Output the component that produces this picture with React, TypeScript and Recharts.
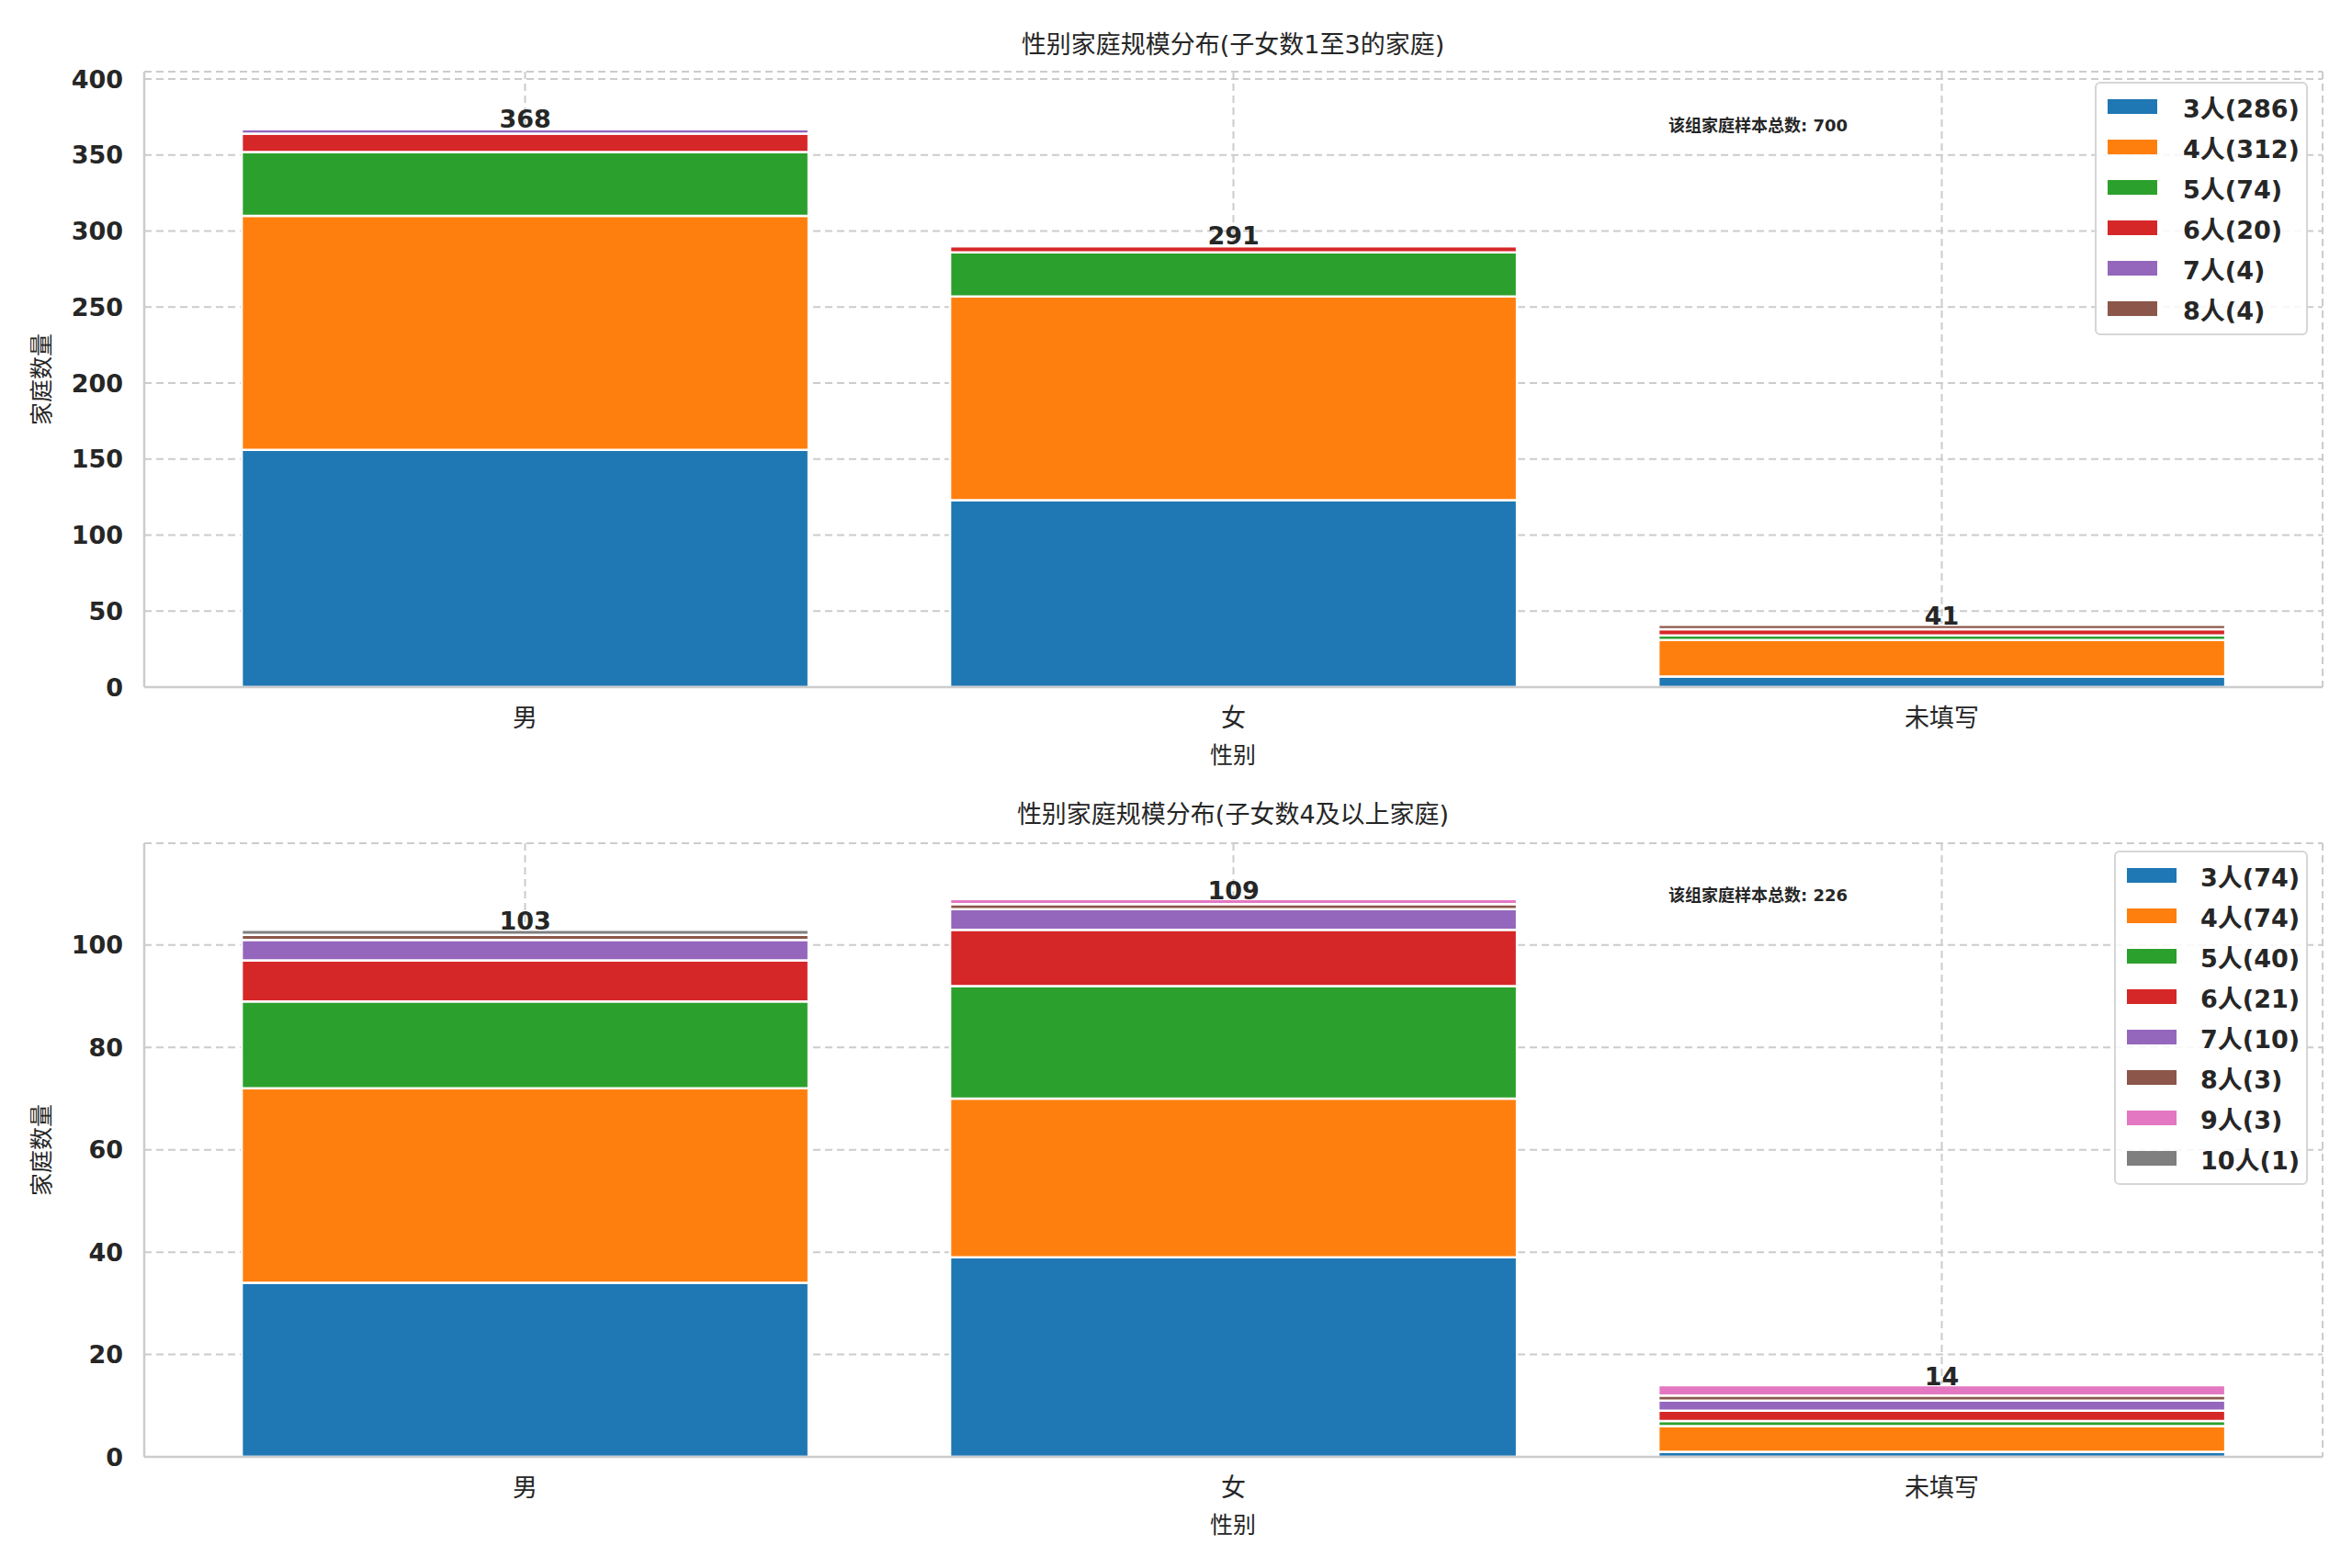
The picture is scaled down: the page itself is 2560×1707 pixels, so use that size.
import { Bar, BarChart, CartesianGrid, LabelList, Legend, XAxis, YAxis } from "recharts";

// categories on the x axis
const categories = ["男", "女", "未填写"];

// panel 1: families with 1-3 children, values per category [男, 女, 未填写]
const topNames = ["3人", "4人", "5人", "6人", "7人", "8人"];
const top3 = [156, 123, 7];
const top4 = [154, 134, 24];
const top5 = [42, 29, 3];
const top6 = [12, 4, 4];
const top7 = [3, 1, 0];
const top8 = [1, 0, 3];
const topTicks = [0, 50, 100, 150, 200, 250, 300, 350, 400];

// panel 2: families with 4+ children
const bottomNames = ["3人", "4人", "5人", "6人", "7人", "8人", "9人", "10人"];
const bot3 = [34, 39, 1];
const bot4 = [38, 31, 5];
const bot5 = [17, 22, 1];
const bot6 = [8, 11, 2];
const bot7 = [4, 4, 2];
const bot8 = [1, 1, 1];
const bot9 = [0, 1, 2];
const bot10 = [1, 0, 0];
const bottomTicks = [0, 20, 40, 60, 80, 100];

const colors = ["#1f77b4", "#ff7f0e", "#2ca02c", "#d62728", "#9467bd", "#8c564b", "#e377c2", "#7f7f7f"];

const FONT = '"DejaVu Sans", "Noto Sans CJK SC", sans-serif';
const INK = "#262626";
const SPINE = "#cccccc";

const sum = (a: number[]) => a.reduce((s, v) => s + v, 0);

function buildRows(series: number[][]) {
  return categories.map((gender, i) => {
    const row: Record<string, number | string | null> = { gender };
    const total = sum(series.map((s) => s[i]));
    // the total label goes on the highest non-empty segment of each bar
    let topK = 0;
    series.forEach((s, k) => {
      row["s" + k] = s[i];
      if (s[i] > 0) topK = k;
    });
    series.forEach((_, k) => (row["lbl" + k] = k === topK ? total : null));
    row.total = total;
    return row;
  });
}

type PanelProps = {
  series: number[][];
  names: string[];
  ticks: number[];
  height: number;
  margin: { top: number; right: number; bottom: number; left: number };
  legendPos: { top: number; left: number; width: number; swatchPad: number; textLeft: number };
};

function LegendBox({ payload, pos }: any) {
  return (
    <div
      style={{
        width: pos.width,
        boxSizing: "border-box",
        border: "2px solid #d6d6d6",
        borderRadius: 6,
        background: "rgba(255,255,255,0.85)",
        padding: "3px 0 5px 0",
        fontFamily: FONT,
      }}
    >
      {(payload || []).map((p: any) => (
        <div key={p.value} style={{ display: "flex", alignItems: "center", height: 44 }}>
          <span
            style={{
              display: "inline-block",
              marginLeft: pos.swatchPad,
              width: 54,
              height: 16,
              background: p.color,
            }}
          />
          <span
            style={{
              marginLeft: pos.textLeft,
              fontSize: 27,
              fontWeight: "bold",
              color: INK,
              whiteSpace: "nowrap",
            }}
          >
            {p.value}
          </span>
        </div>
      ))}
    </div>
  );
}

function Panel({ series, names, ticks, height, margin, legendPos }: PanelProps) {
  const rows = buildRows(series);
  const yMax = Math.max(...rows.map((r) => r.total as number)) * 1.1;
  return (
    <BarChart width={2560} height={height} data={rows} margin={margin} barCategoryGap="10%">
      <CartesianGrid stroke={SPINE} strokeWidth={2} strokeDasharray="8 5" />
      <XAxis
        dataKey="gender"
        padding={{ left: 29, right: 29 }}
        tick={{ fill: INK, fontSize: 27, fontFamily: FONT }}
        tickLine={false}
        tickSize={0}
        tickMargin={24}
        height={60}
        axisLine={{ stroke: SPINE, strokeWidth: 2.5 }}
      />
      <XAxis
        xAxisId="top"
        orientation="top"
        dataKey="gender"
        tick={false}
        tickLine={false}
        height={0}
        axisLine={{ stroke: SPINE, strokeWidth: 2.5 }}
      />
      <YAxis
        domain={[0, yMax]}
        ticks={ticks}
        width={157}
        tick={{ fill: INK, fontSize: 27, fontWeight: "bold", fontFamily: FONT }}
        tickLine={false}
        tickSize={0}
        tickMargin={23}
        axisLine={{ stroke: SPINE, strokeWidth: 2.5 }}
      />
      <YAxis
        yAxisId="right"
        orientation="right"
        width={0}
        tick={false}
        tickLine={false}
        axisLine={{ stroke: SPINE, strokeWidth: 2.5 }}
      />
      <Legend
        layout="vertical"
        align="center"
        verticalAlign="middle"
        itemSorter={(item: any) => Number(String(item.dataKey).slice(1))}
        wrapperStyle={{ top: legendPos.top, left: legendPos.left, width: legendPos.width }}
        content={(props: any) => <LegendBox payload={props.payload} pos={legendPos} />}
      />
      {series.map((s, k) => (
        <Bar
          key={k}
          dataKey={"s" + k}
          name={`${names[k]}(${sum(s)})`}
          stackId="a"
          fill={colors[k]}
          stroke="#ffffff"
          strokeWidth={2.5}
          isAnimationActive={false}
        >
          <LabelList
            dataKey={"lbl" + k}
            position="top"
            offset={0}
            style={{ fill: INK, fontSize: 27, fontWeight: "bold", fontFamily: FONT }}
          />
        </Bar>
      ))}
    </BarChart>
  );
}

const abs = (extra: React.CSSProperties): React.CSSProperties => ({
  position: "absolute",
  fontFamily: FONT,
  color: INK,
  whiteSpace: "nowrap",
  ...extra,
});

export default function App() {
  const topSeries = [top3, top4, top5, top6, top7, top8];
  const bottomSeries = [bot3, bot4, bot5, bot6, bot7, bot8, bot9, bot10];
  return (
    <div style={{ position: "absolute", left: 0, top: 0, width: 2560, height: 1707, background: "#fff" }}>
      <div style={{ position: "absolute", left: 0, top: 0 }}>
        <Panel
          series={topSeries}
          names={topNames}
          ticks={topTicks}
          height={853}
          margin={{ top: 78, right: 32, bottom: 45, left: 0 }}
          legendPos={{ top: 89, left: 2280, width: 232, swatchPad: 12, textLeft: 28 }}
        />
      </div>
      <div style={{ position: "absolute", left: 0, top: 853 }}>
        <Panel
          series={bottomSeries}
          names={bottomNames}
          ticks={bottomTicks}
          height={854}
          margin={{ top: 65, right: 32, bottom: 61, left: 0 }}
          legendPos={{ top: 73, left: 2301, width: 211, swatchPad: 12, textLeft: 26 }}
        />
      </div>

      <div style={abs({ left: 742, width: 1200, top: 31, lineHeight: "36px", fontSize: 27, textAlign: "center" })}>
        性别家庭规模分布(子女数1至3的家庭)
      </div>
      <div style={abs({ left: 742, width: 1200, top: 869, lineHeight: "36px", fontSize: 27, textAlign: "center" })}>
        性别家庭规模分布(子女数4及以上家庭)
      </div>

      <div style={abs({ left: 1816, top: 125, lineHeight: "24px", fontSize: 18, fontWeight: "bold" })}>
        该组家庭样本总数: {sum(topSeries.map(sum))}
      </div>
      <div style={abs({ left: 1816, top: 963, lineHeight: "24px", fontSize: 18, fontWeight: "bold" })}>
        该组家庭样本总数: {sum(bottomSeries.map(sum))}
      </div>

      <div style={abs({ left: 1342, top: 823, fontSize: 25, lineHeight: "30px", transform: "translate(-50%,-50%)" })}>
        性别
      </div>
      <div style={abs({ left: 1342, top: 1661, fontSize: 25, lineHeight: "30px", transform: "translate(-50%,-50%)" })}>
        性别
      </div>
      <div
        style={abs({ left: 46, top: 413, fontSize: 25, lineHeight: "30px", transform: "translate(-50%,-50%) rotate(-90deg)" })}
      >
        家庭数量
      </div>
      <div
        style={abs({ left: 46, top: 1252, fontSize: 25, lineHeight: "30px", transform: "translate(-50%,-50%) rotate(-90deg)" })}
      >
        家庭数量
      </div>
    </div>
  );
}
